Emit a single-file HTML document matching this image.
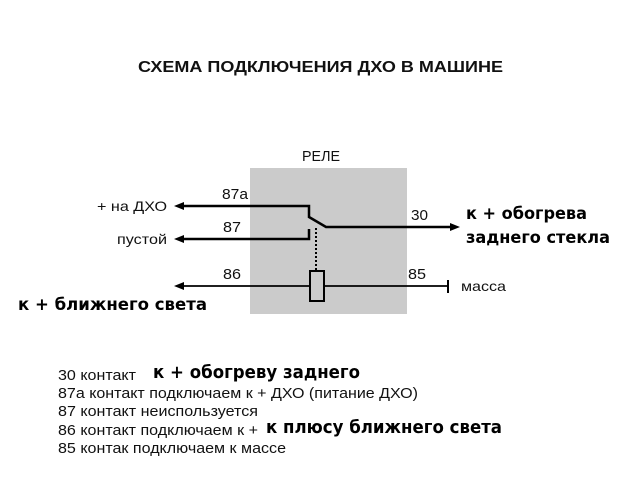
<!DOCTYPE html>
<html><head><meta charset="utf-8"><style>
html,body{margin:0;padding:0;background:#fff}
svg{display:block}
.a{font-family:"Liberation Sans",sans-serif;fill:#111}
.d{font-family:"DejaVu Sans",sans-serif;fill:#000;font-weight:bold}
</style></head><body>
<svg width="640" height="480" viewBox="0 0 640 480" xmlns="http://www.w3.org/2000/svg">
<rect x="250" y="168" width="157" height="146" fill="#cbcbcb"/>
<text class="a" x="138" y="72" font-size="16" font-weight="bold" textLength="365" lengthAdjust="spacingAndGlyphs">СХЕМА ПОДКЛЮЧЕНИЯ ДХО В МАШИНЕ</text>
<text class="a" x="302" y="161" font-size="15" textLength="38" lengthAdjust="spacingAndGlyphs">РЕЛЕ</text>
<g stroke="#000" stroke-width="2.5" fill="none">
<polyline points="182,206 309,206 309,217 326,227 452,227"/>
<polyline points="182,239 309,239 309,229"/>
</g>
<line x1="316" y1="228" x2="316" y2="271" stroke="#000" stroke-width="2" stroke-dasharray="2,2"/>
<g stroke="#000" stroke-width="1.8">
<line x1="182" y1="286" x2="310" y2="286"/>
<line x1="324" y1="286" x2="448" y2="286"/>
<line x1="448" y1="280" x2="448" y2="293" stroke-width="2"/>
</g>
<rect x="310" y="271" width="14" height="30" fill="none" stroke="#000" stroke-width="2"/>
<g fill="#000">
<polygon points="174,206 184,202 184,210"/>
<polygon points="174,239 184,235 184,243"/>
<polygon points="174,286 184,282 184,290"/>
<polygon points="460,227 450,223 450,231"/>
</g>
<g class="a" font-size="15">
<text x="222" y="199" textLength="26" lengthAdjust="spacingAndGlyphs">87a</text>
<text x="223" y="232" textLength="18" lengthAdjust="spacingAndGlyphs">87</text>
<text x="223" y="279" textLength="18" lengthAdjust="spacingAndGlyphs">86</text>
<text x="411" y="220" textLength="17" lengthAdjust="spacingAndGlyphs">30</text>
<text x="408" y="279" textLength="18" lengthAdjust="spacingAndGlyphs">85</text>
</g>
<g class="a" font-size="14">
<text x="97" y="211" textLength="70" lengthAdjust="spacingAndGlyphs">+ на ДХО</text>
<text x="117" y="244" textLength="50" lengthAdjust="spacingAndGlyphs">пустой</text>
<text x="461" y="291" textLength="45" lengthAdjust="spacingAndGlyphs">масса</text>
</g>
<g class="d" font-size="17">
<text x="466" y="219" textLength="121" lengthAdjust="spacingAndGlyphs">к + обогрева</text>
<text x="466" y="243" textLength="144" lengthAdjust="spacingAndGlyphs">заднего стекла</text>
<text x="18" y="310" textLength="189" lengthAdjust="spacingAndGlyphs">к + ближнего света</text>
</g>
<g class="a" font-size="15">
<text x="58" y="380" textLength="78" lengthAdjust="spacingAndGlyphs">30 контакт</text>
<text x="58" y="398" textLength="360" lengthAdjust="spacingAndGlyphs">87а контакт подключаем к + ДХО (питание ДХО)</text>
<text x="58" y="416" textLength="200" lengthAdjust="spacingAndGlyphs">87 контакт неиспользуется</text>
<text x="58" y="435" textLength="200" lengthAdjust="spacingAndGlyphs">86 контакт подключаем к +</text>
<text x="58" y="453" textLength="228" lengthAdjust="spacingAndGlyphs">85 контак подключаем к массе</text>
</g>
<g class="d" font-size="18">
<text x="153" y="378" textLength="207" lengthAdjust="spacingAndGlyphs">к + обогреву заднего</text>
<text x="266" y="433" textLength="236" lengthAdjust="spacingAndGlyphs">к плюсу ближнего света</text>
</g>
</svg>
</body></html>
